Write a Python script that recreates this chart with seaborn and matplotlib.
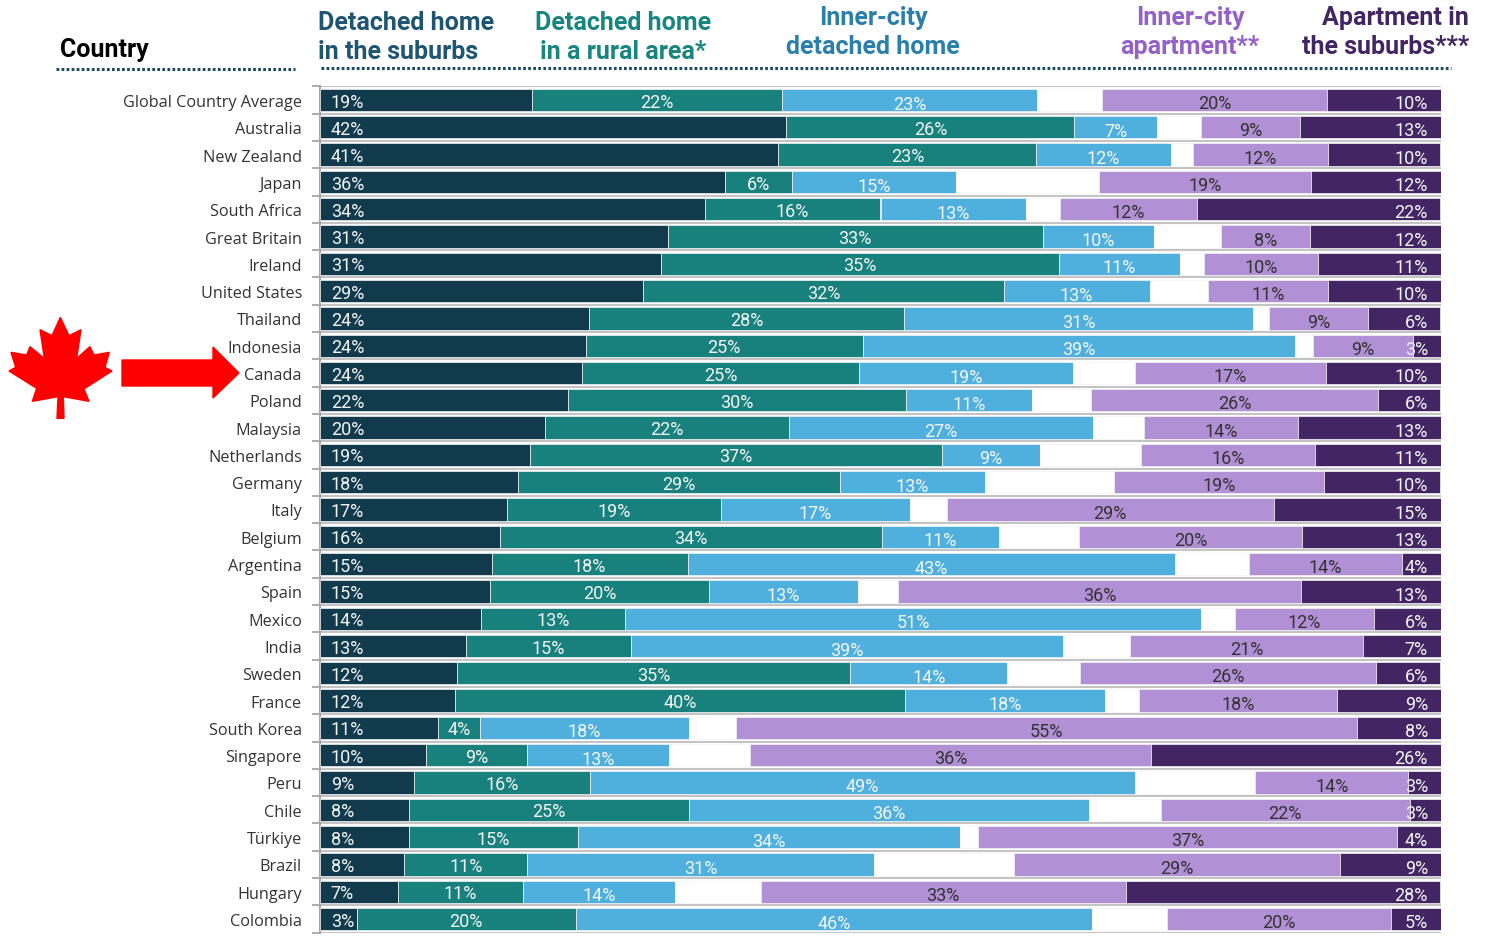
import numpy as np
import pandas as pd
import matplotlib.pyplot as plt
from matplotlib.patches import Polygon
from matplotlib.lines import Line2D
import seaborn as sns

countries = ['Global Country Average', 'Australia', 'New Zealand', 'Japan', 'South Africa', 'Great Britain',
             'Ireland', 'United States', 'Thailand', 'Indonesia', 'Canada', 'Poland', 'Malaysia', 'Netherlands',
             'Germany', 'Italy', 'Belgium', 'Argentina', 'Spain', 'Mexico', 'India', 'Sweden', 'France',
             'South Korea', 'Singapore', 'Peru', 'Chile', 'Türkiye', 'Brazil', 'Hungary', 'Colombia']

# bar lengths (share of the full bar, %)
suburbs = [18.9, 41.6, 40.9, 36.1, 34.3, 31.0, 30.4, 28.8, 24.0, 23.7, 23.4, 22.1, 20.1, 18.7, 17.7, 16.7,
           16.1, 15.3, 15.2, 14.4, 13.0, 12.2, 12.0, 10.5, 9.5, 8.4, 7.9, 7.9, 7.5, 7.0, 3.3]
rural = [22.3, 25.7, 23.0, 6.0, 15.7, 33.5, 35.5, 32.2, 28.1, 24.7, 24.7, 30.2, 21.7, 36.8, 28.7, 19.1,
         34.0, 17.5, 19.5, 12.8, 14.7, 35.1, 40.2, 3.8, 9.0, 15.7, 25.0, 15.1, 11.0, 11.1, 19.5]
inner_home = [22.8, 7.4, 12.0, 14.6, 13.0, 9.9, 10.8, 13.0, 31.1, 38.6, 19.1, 11.2, 27.2, 8.7, 12.9, 16.8,
              10.5, 43.5, 13.3, 51.4, 38.6, 14.0, 17.8, 18.6, 12.6, 48.6, 35.7, 34.1, 30.9, 13.6, 46.1]
other = [5.8, 3.9, 2.0, 12.8, 3.0, 6.0, 2.2, 5.2, 1.5, 1.6, 5.5, 5.3, 4.5, 9.0, 11.5, 3.3,
         7.1, 6.6, 3.6, 3.0, 6.0, 6.5, 3.1, 4.2, 7.3, 10.7, 6.4, 1.6, 12.5, 7.6, 6.7]
inner_apt = [20.0, 8.8, 12.0, 18.9, 12.2, 7.9, 10.1, 10.7, 8.8, 8.9, 17.0, 25.6, 13.7, 15.6, 18.8, 29.2,
             19.9, 13.6, 35.9, 12.4, 20.7, 26.4, 17.6, 55.4, 35.7, 13.7, 22.2, 37.4, 29.1, 32.6, 19.9]
suburb_apt = [10.2, 12.6, 10.0, 11.6, 21.7, 11.8, 11.0, 10.1, 6.4, 2.5, 10.3, 5.5, 12.8, 11.2, 10.3, 15.0,
              12.4, 3.6, 12.5, 6.1, 7.0, 5.7, 9.4, 7.5, 26.0, 2.9, 2.8, 4.0, 9.1, 28.0, 4.5]

# printed labels
suburbs_lab = [19, 42, 41, 36, 34, 31, 31, 29, 24, 24, 24, 22, 20, 19, 18, 17, 16, 15, 15, 14, 13, 12, 12, 11, 10, 9, 8, 8, 8, 7, 3]
rural_lab = [22, 26, 23, 6, 16, 33, 35, 32, 28, 25, 25, 30, 22, 37, 29, 19, 34, 18, 20, 13, 15, 35, 40, 4, 9, 16, 25, 15, 11, 11, 20]
inner_home_lab = [23, 7, 12, 15, 13, 10, 11, 13, 31, 39, 19, 11, 27, 9, 13, 17, 11, 43, 13, 51, 39, 14, 18, 18, 13, 49, 36, 34, 31, 14, 46]
inner_apt_lab = [20, 9, 12, 19, 12, 8, 10, 11, 9, 9, 17, 26, 14, 16, 19, 29, 20, 14, 36, 12, 21, 26, 18, 55, 36, 14, 22, 37, 29, 33, 20]
suburb_apt_lab = [10, 13, 10, 12, 22, 12, 11, 10, 6, 3, 10, 6, 13, 11, 10, 15, 13, 4, 13, 6, 7, 6, 9, 8, 26, 3, 3, 4, 9, 28, 5]

W, H = 1493, 937

sns.set_style('white')
plt.rcParams['font.family'] = ['Roboto', 'DejaVu Sans']

df = pd.DataFrame({'country': countries, 'suburbs': suburbs, 'rural': rural, 'inner_home': inner_home,
                   'other': other, 'inner_apt': inner_apt, 'suburb_apt': suburb_apt})

fig = plt.figure(figsize=(W / 100, H / 100), dpi=100)
ax = fig.add_axes([320 / W, 1 - 933.65 / H, 1121 / W, 846.3 / H])


def fx(x):
    return x / W


def fy(y):
    return 1 - y / H


# stacked bars, one barplot per segment
series = [('suburbs', '#123a4d'), ('rural', '#18807d'), ('inner_home', '#50b0dd'),
          ('other', '#ffffff'), ('inner_apt', '#b190d6'), ('suburb_apt', '#432564')]
left = np.zeros(len(df))
lefts = {}
for col, c in series:
    lefts[col] = left.copy()
    sns.barplot(data=df, y='country', x=col, left=left, color=c, saturation=1, width=0.82,
                orient='h', edgecolor='#f4f4f4', linewidth=0.5, ax=ax, zorder=3)
    left = left + df[col].values

ax.set_xlim(0, 100)
ax.set_ylim(30.5, -0.5)
ax.set_xlabel('')
ax.set_ylabel('')
ax.set_xticks([])

# separators between the rows
ax.set_yticks(np.arange(-0.5, 31), minor=True)
ax.grid(True, which='minor', axis='y', color='#c4c4c4', linewidth=1.5, zorder=0)
ax.grid(False, which='major')
ax.set_axisbelow(True)
ax.tick_params(axis='y', which='minor', length=6, width=1.3, color='#a6a6a6', left=True)
ax.tick_params(axis='y', which='major', length=0, pad=13)
for s in ['top', 'right', 'bottom']:
    ax.spines[s].set_visible(False)
ax.spines['left'].set_color('#a6a6a6')
ax.spines['left'].set_linewidth(1.5)
for t in ax.get_yticklabels():
    t.set_fontfamily(['Open Sans', 'DejaVu Sans'])
    t.set_fontsize(11.7)
    t.set_color('#333333')

# value labels
px = 1 / 27.3
light = '#f2f5f6'
val = dict(fontsize=13, fontweight='normal', va='center', zorder=5)
for i in range(len(countries)):
    ax.text(0.95, i + 1.6 * px, f'{suburbs_lab[i]}%', color=light, ha='left', **val)
    ax.text(lefts['rural'][i] + rural[i] / 2, i + 1.6 * px, f'{rural_lab[i]}%', color=light, ha='center', **val)
    ax.text(lefts['inner_home'][i] + inner_home[i] / 2, i + 3.6 * px, f'{inner_home_lab[i]}%', color=light,
            ha='center', **val)
    ax.text(lefts['inner_apt'][i] + inner_apt[i] / 2, i + 3.2 * px, f'{inner_apt_lab[i]}%', color='#333333',
            ha='center', **val)
    ax.text(98.84, i + 3.2 * px, f'{suburb_apt_lab[i]}%', color=light, ha='right', **val)

# column headers
hdr = dict(fontsize=18, fontweight='bold', linespacing=1.28, va='center')
fig.text(fx(60), fy(50), 'Country', color='#000000', ha='left', **hdr)
fig.text(fx(318), fy(37.5), 'Detached home\nin the suburbs', color='#1d5573', ha='left', **hdr)
fig.text(fx(623), fy(37.5), 'Detached home\nin a rural area*', color='#18867f', ha='center', **hdr)
fig.text(fx(873), fy(32.5), 'Inner-city\ndetached home', color='#2a80ab', ha='center', **hdr)
fig.text(fx(1190), fy(32.5), 'Inner-city\napartment**', color='#9461c8', ha='center', **hdr)
fig.text(fx(1469), fy(32.5), 'Apartment in\nthe suburbs***', color='#432564', ha='right', multialignment='right', **hdr)

# dotted rules under the headers
for x0, x1, yy in [(56, 295, 69.7), (321, 1451, 69)]:
    fig.add_artist(Line2D([fx(x0), fx(x1)], [fy(yy), fy(yy)], color='#1d4a63', linewidth=2.2,
                          linestyle=(0, (0.9, 0.75))))

# maple leaf and arrow pointing at Canada
leaf = [(181, 55), (207, 110), (243, 92), (230, 178), (270, 143), (282, 168), (328, 160), (315, 205),
        (336, 216), (252, 270), (267, 307), (190, 293), (192, 358), (171, 358), (174, 293), (97, 307),
        (110, 268), (27, 216), (47, 205), (33, 160), (80, 168), (90, 143), (133, 178), (120, 92), (156, 110)]
fig.add_artist(Polygon([(fx(x / 3), fy(300 + y / 3)) for x, y in leaf], closed=True, color='#ff0000',
                       transform=fig.transFigure))
arrow = [(122, 361), (213, 361), (213, 348), (239, 374), (213, 399), (213, 387), (122, 387)]
fig.add_artist(Polygon([(fx(x), fy(y)) for x, y in arrow], closed=True, color='#ff0000',
                       transform=fig.transFigure))

fig.savefig('out.png', dpi=100, facecolor='white')
